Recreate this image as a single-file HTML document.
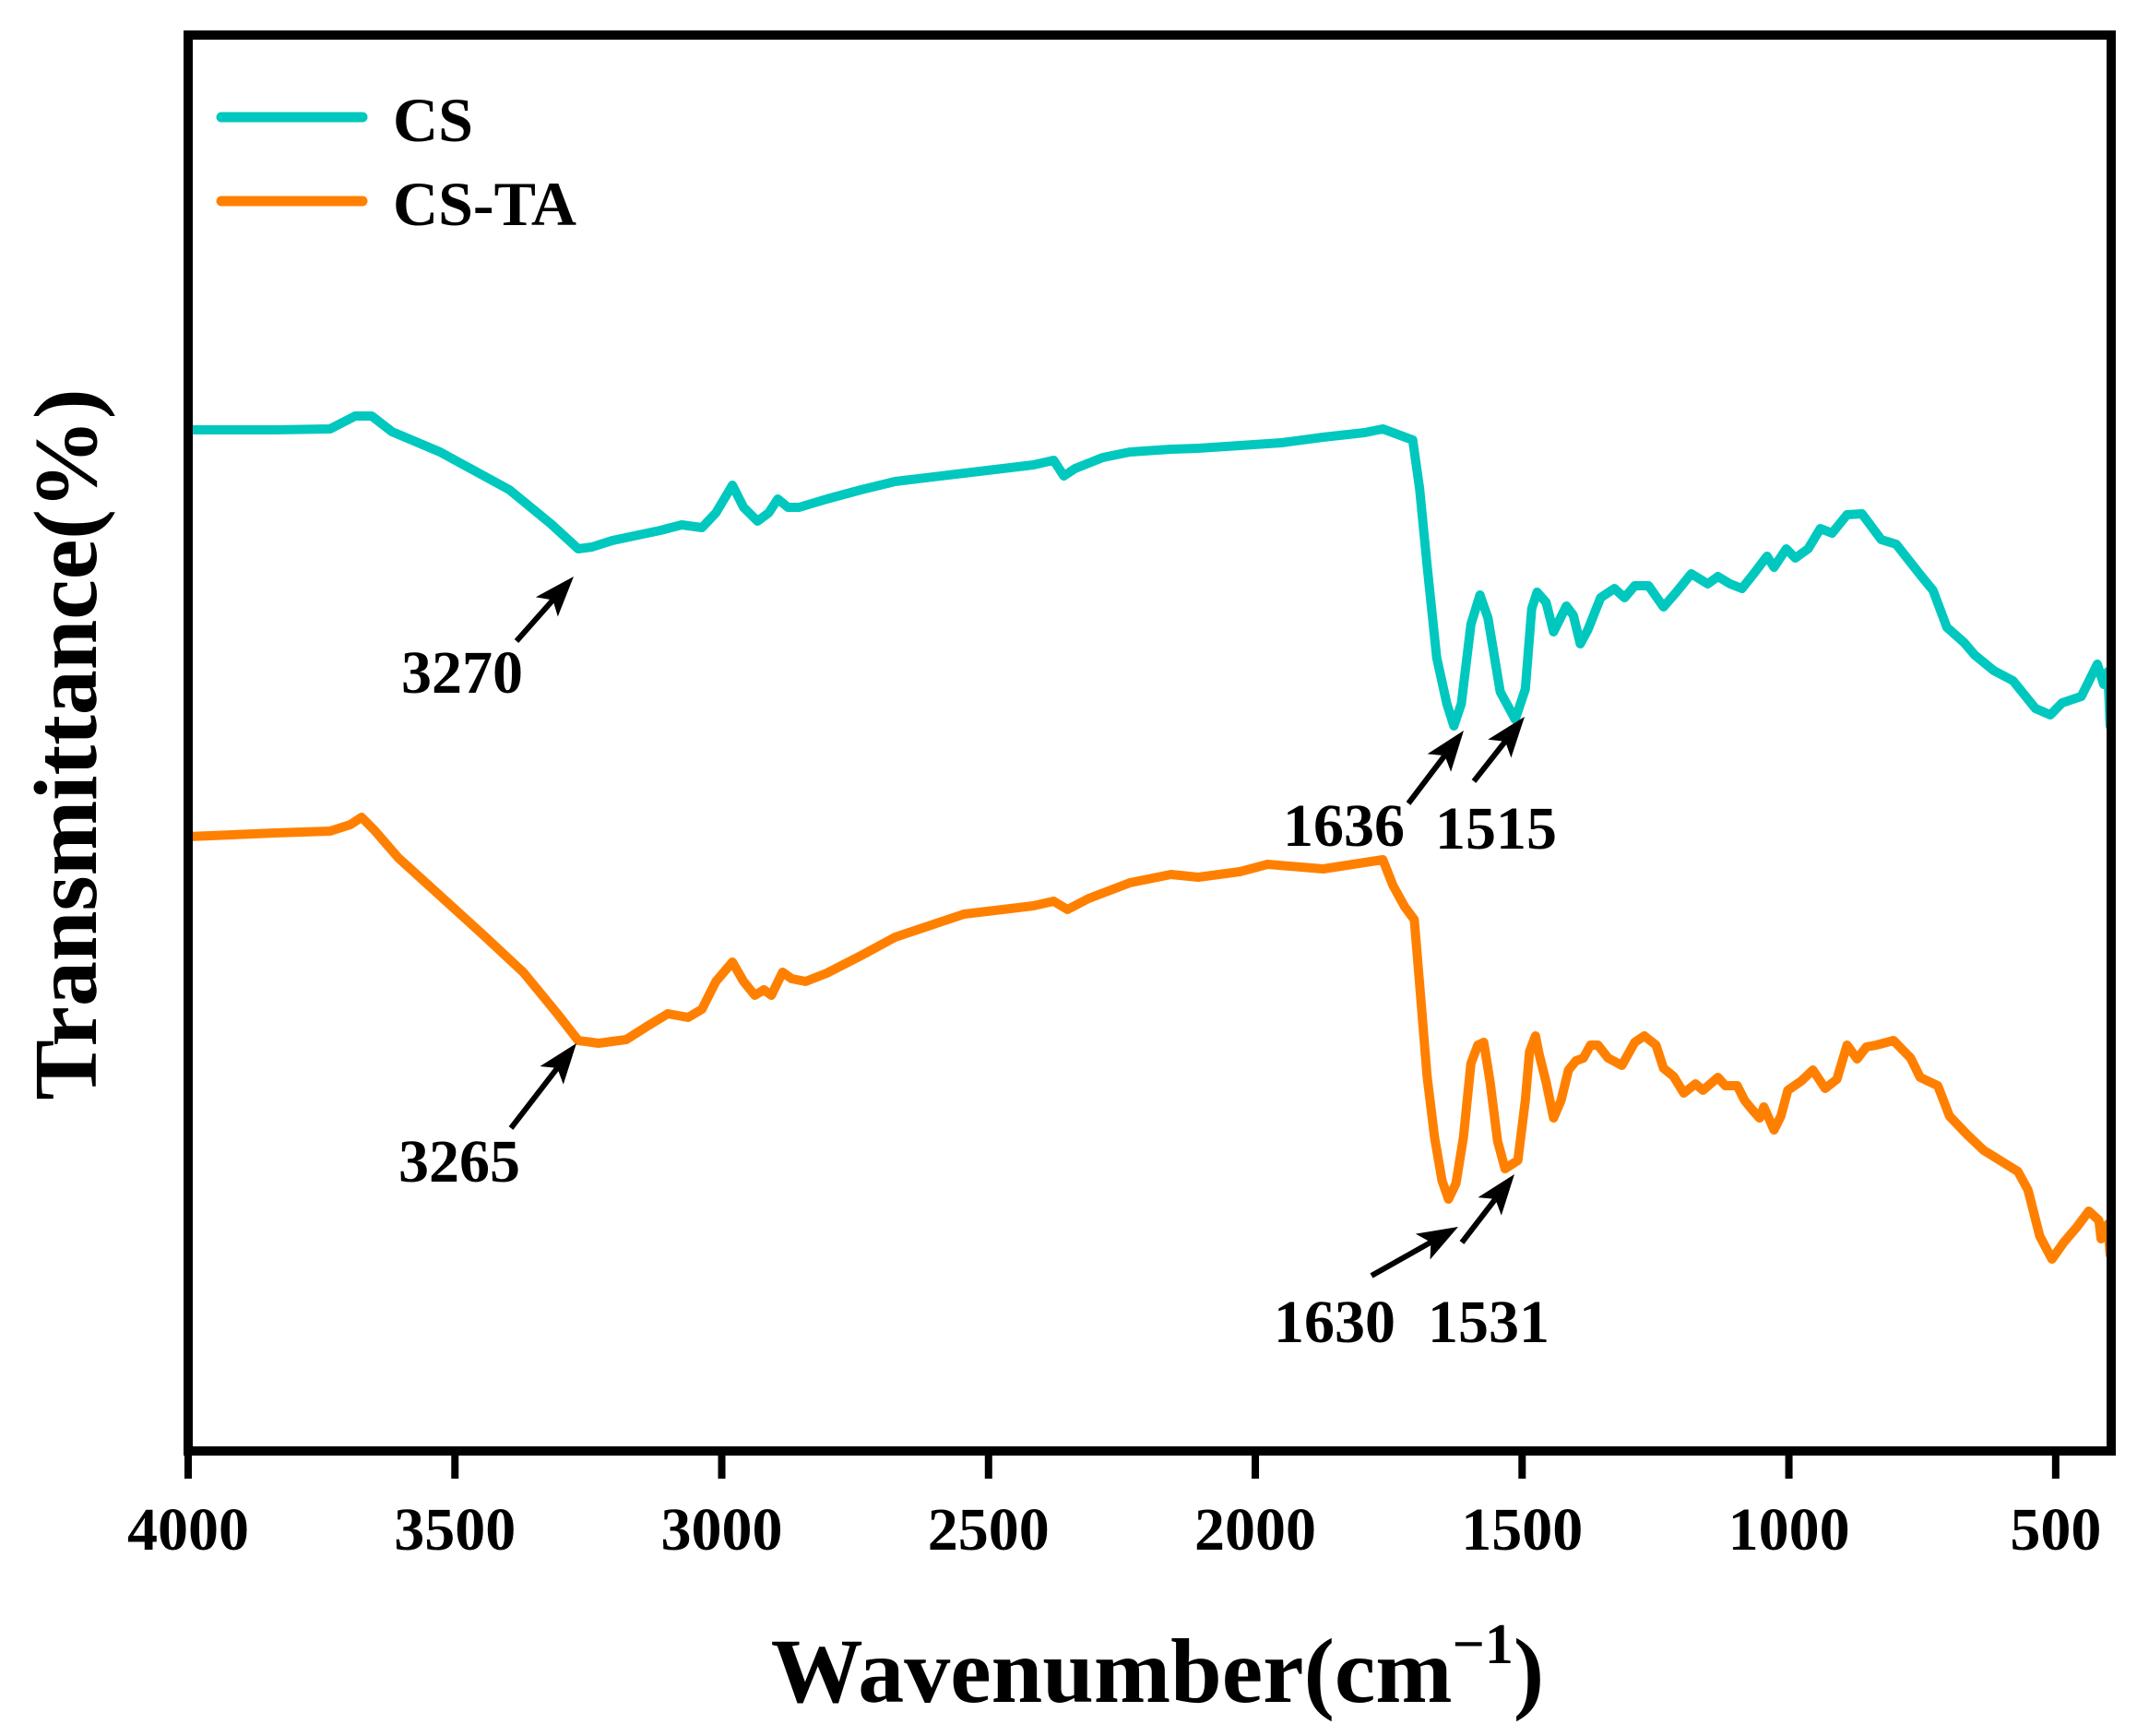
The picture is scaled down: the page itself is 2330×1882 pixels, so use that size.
<!DOCTYPE html>
<html><head><meta charset="utf-8"><style>
html,body{margin:0;padding:0;background:#fff;}
svg{display:block;}
svg text{font-family:"Liberation Serif","Times New Roman",serif;font-weight:700;}
</style></head><body>
<svg id="chart" width="2330" height="1882" viewBox="0 0 2330 1882" xmlns="http://www.w3.org/2000/svg" font-family="Liberation Serif, Times New Roman, serif" font-weight="700">
<rect x="0" y="0" width="2330" height="1882" fill="#fff"/>
<g id="series"></g>
<g id="axes"></g>
<g id="annots"></g>
<g>
  <line x1="240" y1="127" x2="393" y2="127" stroke="#00C8BE" stroke-width="11" stroke-linecap="round"/>
  <text x="426" y="153" font-size="68" font-family="Liberation Serif, serif">CS</text>
  <line x1="240" y1="218" x2="393" y2="218" stroke="#FF8000" stroke-width="11" stroke-linecap="round"/>
  <text x="426" y="244" font-size="68" font-family="Liberation Serif, serif">CS-TA</text>
</g>
<text x="1255" y="1845" font-size="100" text-anchor="middle" font-family="Liberation Serif, serif">Wavenumber(cm<tspan font-size="62" dy="-42">−1</tspan><tspan dy="42">)</tspan></text>
<text transform="translate(72,807) rotate(-90)" font-size="98" text-anchor="middle" dominant-baseline="central" font-family="Liberation Serif, serif">Transmittance(%)</text>
</svg>
<script>
const xTicks = [4000, 3500, 3000, 2500, 2000, 1500, 1000, 500];
const csWave = [4000,3837,3734,3687,3656,3618,3528,3398,3320,3269,3243,3205,3115,3075,3037,3011,2980,2959,2933,2912,2895,2876,2855,2803,2739,2675,2546,2416,2378,2359,2338,2286,2235,2158,2107,2029,1951,1873,1795,1761,1705,1692,1678,1660,1641,1628,1614,1596,1579,1564,1541,1513,1494,1482,1472,1455,1441,1417,1404,1391,1377,1353,1327,1308,1289,1263,1235,1211,1183,1152,1133,1110,1088,1066,1041,1028,1005,988,964,941,919,891,863,827,799,754,730,704,671,652,616,580,538,510,488,452,422,410,402,398];
const csValue = [110.7,110.7,110.8,112.2,112.2,110.5,108.3,104.2,100.5,97.8,98.0,98.7,99.8,100.4,100.1,101.7,104.7,102.3,100.8,101.7,103.2,102.3,102.3,103.2,104.2,105.1,106.0,106.9,107.4,105.7,106.5,107.7,108.3,108.6,108.7,109.0,109.3,109.9,110.4,110.8,109.6,104.3,96.0,86.0,81.0,78.6,81.0,89.6,92.8,90.3,82.3,79.3,82.6,91.3,93.1,92.0,88.8,91.6,90.6,87.5,89.0,92.5,93.5,92.5,93.8,93.8,91.5,93.1,95.1,94.0,94.8,94.0,93.5,95.1,97.0,95.8,97.8,96.8,97.8,100.0,99.5,101.5,101.6,98.8,98.3,95.0,93.3,89.3,87.6,86.3,84.6,83.5,80.5,79.8,81.1,81.8,85.3,83.1,84.5,78.6];
const tkWave = [4000,3837,3734,3696,3675,3651,3606,3528,3450,3372,3308,3269,3231,3179,3141,3101,3063,3037,3011,2980,2959,2938,2921,2907,2886,2869,2843,2803,2739,2675,2546,2416,2378,2352,2312,2235,2158,2107,2029,1977,1873,1761,1742,1720,1702,1692,1678,1664,1650,1638,1624,1610,1596,1583,1572,1560,1546,1532,1508,1494,1486,1475,1468,1455,1441,1427,1413,1399,1385,1372,1358,1339,1313,1289,1271,1249,1235,1216,1197,1175,1161,1133,1119,1097,1083,1069,1055,1047,1028,1015,1002,977,955,932,910,891,872,855,836,804,772,754,721,699,666,635,607,571,552,530,507,485,460,438,419,415,402,398];
const tkValue = [66.6,67.0,67.2,67.9,68.7,67.3,64.3,60.2,56.1,51.9,47.4,44.5,44.2,44.6,46.0,47.4,47.0,47.9,50.9,53.0,50.9,49.4,50.0,49.4,51.9,51.2,50.9,51.8,53.7,55.7,58.2,59.1,59.6,58.7,59.9,61.6,62.5,62.2,62.8,63.6,63.1,64.1,61.3,59.0,57.6,50.6,40.6,34.0,29.3,27.3,29.0,34.0,42.0,44.0,44.3,40.0,33.6,30.6,31.5,38.0,43.3,45.0,43.0,40.0,36.1,38.0,41.3,42.3,42.6,44.0,44.0,42.6,41.8,44.3,45.0,44.0,41.5,40.6,38.8,39.8,39.1,40.5,39.6,39.6,38.0,37.0,36.1,37.3,34.8,36.3,39.1,40.1,41.3,39.3,40.3,44.0,42.5,43.8,44.0,44.5,42.6,40.5,39.6,36.3,34.3,32.6,31.6,30.3,28.3,23.3,20.8,22.6,24.3,26.0,25.0,23.0,24.6,21.3];
const annLabels = ["3270","3265","1636","1515","1630","1531"];

const X0=204, X1=2289, Y0=38, Y1=1573;
const xDom=[4000,396], yDom=[0,153.5];
function xs(w){return X0+(xDom[0]-w)/(xDom[0]-xDom[1])*(X1-X0);}
function ys(v){return Y1-(v-yDom[0])/(yDom[1]-yDom[0])*(Y1-Y0);}
const NS="http://www.w3.org/2000/svg";
function mk(t,a,p){const e=document.createElementNS(NS,t);for(const k in a)e.setAttribute(k,a[k]);p.appendChild(e);return e;}

const S=document.getElementById('series');
function drawSeries(w,v,color,name){
  const d=w.map((x,i)=>(i?'L':'M')+xs(x).toFixed(1)+','+ys(v[i]).toFixed(1)).join('');
  const p=mk('path',{d:d,fill:'none',stroke:color,'stroke-width':10,'stroke-linejoin':'round','stroke-linecap':'round'},S);
  
  
}
drawSeries(csWave,csValue,'#00C8BE','cs-spectrum-line');
drawSeries(tkWave,tkValue,'#FF8000','cs-ta-spectrum-line');

const A=document.getElementById('axes');
const frame=mk('rect',{x:X0,y:Y0,width:X1-X0,height:Y1-Y0,fill:'none',stroke:'#000','stroke-width':10},A);


xTicks.forEach(t=>{
  const x=xs(t);
  const tk=mk('line',{x1:x,y1:Y1,x2:x,y2:1603,stroke:'#000','stroke-width':8},A);
  
  
  const lb=mk('text',{x:x,y:1680,'font-size':66,'text-anchor':'middle','font-family':'Liberation Serif, serif'},A);
  lb.textContent=t;
  
  
});

const N=document.getElementById('annots');
const annGeom=[[501,728,560,695,622,625],[498,1258,554,1223,625,1131],[1457,894,1527,871,1587,792],[1622,897,1598,847,1653,777],[1447,1432,1487,1383,1581,1330],[1614,1432,1585,1347,1642,1273]];
annGeom.forEach((g,i)=>{
  const [tx,ty,ax,ay,bx,by]=g;
  const t=mk('text',{x:tx,y:ty+23,'font-size':66,'text-anchor':'middle','font-family':'Liberation Serif, serif'},N);
  t.textContent=annLabels[i];
  
  
  const dx=bx-ax, dy=by-ay, L=Math.hypot(dx,dy), ux=dx/L, uy=dy/L;
  const hl=44, hw=16;
  const sx=bx-ux*hl, sy=by-uy*hl;
  const ln=mk('line',{x1:ax,y1:ay,x2:sx+ux*10,y2:sy+uy*10,stroke:'#000','stroke-width':6},N);
  
  
  const hd=mk('polygon',{points:`${bx},${by} ${sx-uy*hw},${sy+ux*hw} ${sx+ux*10},${sy+uy*10} ${sx+uy*hw},${sy-ux*hw}`,fill:'#000'},N);
  
  
});
</script>
</body></html>
